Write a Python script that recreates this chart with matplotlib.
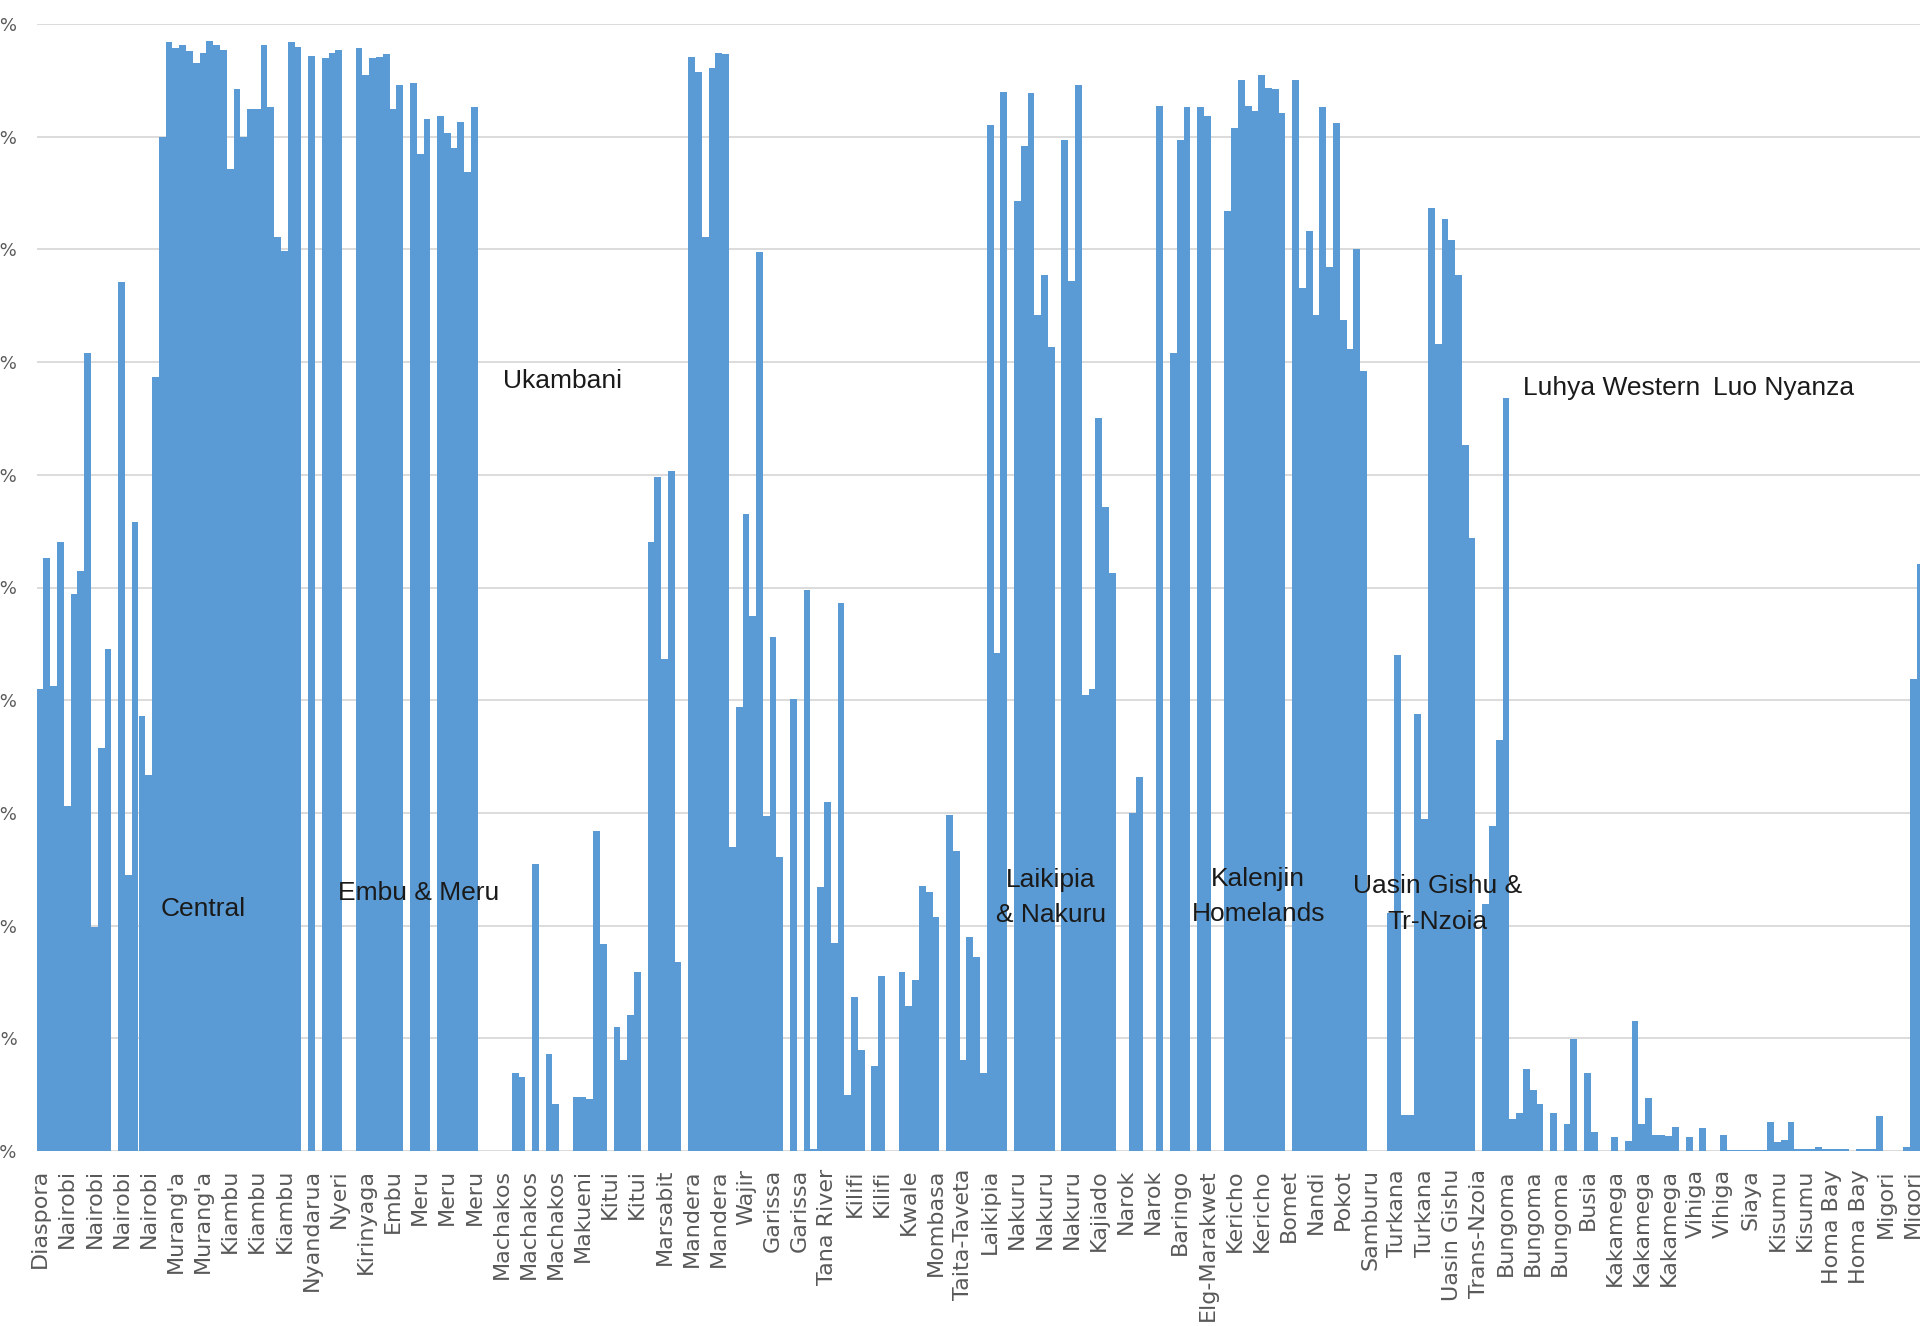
import numpy as np
import matplotlib.pyplot as plt

# share of the vote (%) per constituency, in chart order
nairobi = [41.0, 52.6, 41.3, 54.0, 30.6, 49.4, 51.5, 70.8, 19.9, 35.8, 44.5, 0,
           77.1, 24.5, 55.8, 38.6, 33.4, 68.7]
central = [90.0, 98.4, 97.9, 98.1, 97.6, 96.5, 97.4, 98.5, 98.1, 97.7, 87.1, 94.2,
           90.0, 92.5, 92.5, 98.1, 92.6, 81.1, 79.9, 98.4, 98.0, 0, 97.2, 0,
           97.0, 97.4, 97.7, 0, 0]
embu_meru = [97.9, 95.5, 97.0, 97.1, 97.3, 92.5, 94.6, 0, 94.8, 88.5, 91.6, 0,
             91.8, 90.3, 89.0, 91.3, 86.9, 92.6]
ukambani = [0, 0, 0, 0, 0, 6.9, 6.6, 0, 25.5, 0, 8.6, 4.2, 0, 0, 4.8, 4.8, 4.6,
            28.4, 18.4, 0, 11.0, 8.1, 12.1, 15.9, 0]
north_coast = [54.0, 59.8, 43.7, 60.3, 16.8, 0, 97.1, 95.7, 81.1, 96.1, 97.4, 97.3,
               27.0, 39.4, 56.5, 47.5, 79.8, 29.7, 45.6, 26.1, 0, 40.1, 0, 49.8,
               0.2, 23.4, 31.0, 18.5, 48.6, 5.0, 13.7, 9.0, 0, 7.5, 15.5, 0, 0,
               15.9, 12.9, 15.2, 23.5, 23.0, 20.8, 0, 29.8, 26.6, 8.1, 19.0, 17.2, 6.9]
rift_south = [91.0, 44.2, 94.0, 0, 84.3, 89.2, 93.9, 74.2, 77.7, 71.3, 0, 89.7,
              77.2, 94.6, 40.5, 41.0, 65.0, 57.1, 51.3, 0, 0, 30.0, 33.2, 0, 0,
              92.7, 0, 70.8, 89.7, 92.6, 0, 92.6, 91.8, 0, 0]
kalenjin = [83.4, 90.8, 95.0, 92.7, 92.3, 95.5, 94.3, 94.2, 92.1, 0, 95.0, 76.6,
            81.6, 74.2, 92.6, 78.4, 91.2, 73.7, 71.2, 80.0, 69.2, 0, 0, 0]
uasin_nzoia = [21.1, 44.0, 3.2, 3.2, 38.8, 29.5, 83.7, 71.6, 82.7, 80.8, 77.7,
               62.6, 54.4, 0, 21.9, 28.8, 36.5, 66.8]
western = [2.8, 3.4, 7.3, 5.4, 4.2, 0, 3.4, 0, 2.4, 9.9, 0, 6.9, 1.7, 0, 0, 1.2,
           0, 0.9, 11.5, 2.4, 4.7, 1.4, 1.4, 1.3, 2.1, 0, 1.2, 0, 2.0, 0, 0, 1.4, 0.1]
nyanza = [0.1, 0.1, 0.1, 0.1, 0.1, 2.6, 0.8, 1.0, 2.6, 0.15, 0.15, 0.15, 0.35,
          0.15, 0.15, 0.15, 0.15, 0, 0.15, 0.15, 0.15, 3.1, 0, 0, 0, 0.35, 41.9, 52.1]

share = (nairobi + central + embu_meru + ukambani + north_coast + rift_south
         + kalenjin + uasin_nzoia + western + nyanza)

# every fourth bar carries a county name
tick_names = ["Diaspora", "Nairobi", "Nairobi", "Nairobi", "Nairobi", "Murang'a",
              "Murang'a", "Kiambu", "Kiambu", "Kiambu", "Nyandarua", "Nyeri",
              "Kirinyaga", "Embu", "Meru", "Meru", "Meru", "Machakos", "Machakos",
              "Machakos", "Makueni", "Kitui", "Kitui", "Marsabit", "Mandera",
              "Mandera", "Wajir", "Garissa", "Garissa", "Tana River", "Kilifi",
              "Kilifi", "Kwale", "Mombasa", "Taita-Taveta", "Laikipia", "Nakuru",
              "Nakuru", "Nakuru", "Kajiado", "Narok", "Narok", "Baringo",
              "Elg-Marakwet", "Kericho", "Kericho", "Bomet", "Nandi", "Pokot",
              "Samburu", "Turkana", "Turkana", "Uasin Gishu", "Trans-Nzoia",
              "Bungoma", "Bungoma", "Bungoma", "Busia", "Kakamega", "Kakamega",
              "Kakamega", "Vihiga", "Vihiga", "Siaya", "Kisumu", "Kisumu",
              "Homa Bay", "Homa Bay", "Migori", "Migori"]

regions = ["Central", "Embu & Meru", "Ukambani", "Laikipia\n& Nakuru",
           "Kalenjin\nHomelands", "Uasin Gishu &\nTr-Nzoia", "Luhya Western",
           "Luo Nyanza"]
region_x = [24.1, 55.8, 77.0, 148.9, 179.5, 205.9, 231.5, 256.9]
region_y = [21.5, 22.9, 68.3, 22.5, 22.6, 21.9, 67.7, 67.7]

fig = plt.figure(figsize=(19.2, 13.26), dpi=100)
ax = fig.add_axes([36.7 / 1920, 175 / 1326, 1 - 36.7 / 1920, 1127 / 1326])

x = np.arange(len(share))
ax.bar(x, share, width=1.0, color='#5B9BD5', linewidth=0, zorder=2)

ax.set_xlim(-0.5, 277.0)
ax.set_ylim(0, 100)
ax.set_yticks(np.arange(0, 101, 10))
ax.set_yticklabels([f"{v}%" for v in range(0, 101, 10)])
ax.set_xticks(np.arange(0, len(share) - 1, 4))
ax.set_xticklabels(tick_names, rotation=90)
ax.tick_params(axis='x', length=0, pad=13, labelsize=16, labelcolor='#595959')
ax.tick_params(axis='y', length=0, pad=14, labelsize=13, labelcolor='#595959')

ax.yaxis.grid(True, color='#d9d9d9', linewidth=1.3)
ax.set_axisbelow(True)
for s in ax.spines.values():
    s.set_visible(False)

for name, rx, ry in zip(regions, region_x, region_y):
    ax.text(rx, ry, name, ha='center', va='center', fontsize=19,
            family=['Liberation Sans'], color='#1a1a1a',
            linespacing=1.6, zorder=3)

fig.savefig('out.png', dpi=100)
